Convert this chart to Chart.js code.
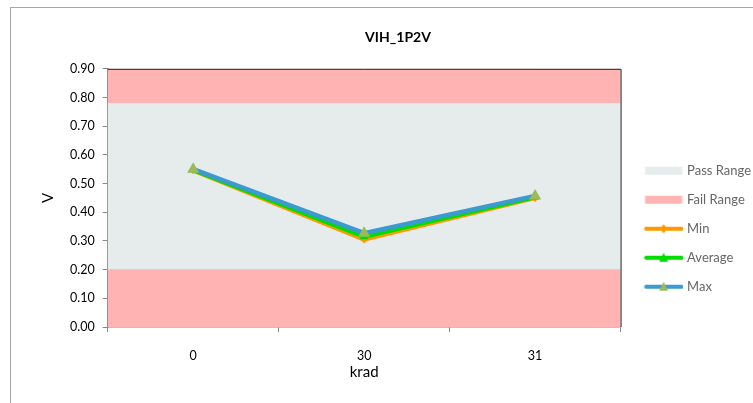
<!DOCTYPE html>
<html>
<head>
<meta charset="utf-8">
<script src="https://cdn.jsdelivr.net/npm/chart.js@4"></script>
<style>
  body { margin: 0; background: #fff; }
  #wrap { position: relative; width: 753px; height: 403px; overflow: hidden; }
  #frame { position: absolute; left: 10px; top: 7px; width: 800px; height: 450px; border: 1px solid #a6a6a6; box-sizing: border-box; }
  #c { position: absolute; left: 0; top: 0; }
</style>
</head>
<body>
<div id="wrap">
  <div id="frame"></div>
  <canvas id="c" width="753" height="403"></canvas>
</div>
<script>
const categories = ['0', '30', '31'];
const minVals = [0.546, 0.305, 0.450];
const avgVals = [0.548, 0.315, 0.453];
const maxVals = [0.550, 0.327, 0.457];
const failLow = 0.20;
const passHigh = 0.78;
const axisMax = 0.90;
const yTicks = [0, 0.1, 0.2, 0.3, 0.4, 0.5, 0.6, 0.7, 0.8, 0.9];

const passColor = '#e6ecec';
const failColor = '#ffb3b3';

function bandRow(v) { return categories.map(() => v); }

// legend swatch, drawn a bit right of centre so it lines up with the text like excel does
function legendIcon(kind, color, marker) {
  const cv = document.createElement('canvas');
  cv.width = 48; cv.height = 12;
  const g = cv.getContext('2d');
  const x0 = 10.5, x1 = 47.5, mid = (x0 + x1) / 2;
  if (kind === 'box') {
    g.fillStyle = color;
    g.fillRect(x0, 2, x1 - x0, 8);
  } else {
    g.strokeStyle = color;
    g.lineWidth = 4;
    g.lineCap = 'round';
    g.beginPath(); g.moveTo(x0 + 1, 6); g.lineTo(x1 - 1, 6); g.stroke();
    g.fillStyle = marker;
    g.beginPath();
    if (kind === 'diamond') {
      g.moveTo(mid, 1.5); g.lineTo(mid + 4, 6); g.lineTo(mid, 10.5); g.lineTo(mid - 4, 6);
    } else {
      g.moveTo(mid, 1); g.lineTo(mid + 4.5, 10); g.lineTo(mid - 4.5, 10);
    }
    g.closePath(); g.fill();
  }
  return cv;
}

const legendItems = [
  { text: 'Pass Range', icon: legendIcon('box', passColor) },
  { text: 'Fail Range', icon: legendIcon('box', failColor) },
  { text: 'Min', icon: legendIcon('diamond', '#ff9900', '#ff9900') },
  { text: 'Average', icon: legendIcon('tri', '#00dd00', '#00dd00') },
  { text: 'Max', icon: legendIcon('tri', '#3b9ad0', '#9bbb59') }
];

const plotBorder = {
  id: 'plotBorder',
  afterDraw(chart) {
    const a = chart.chartArea, ctx = chart.ctx;
    ctx.save();
    ctx.strokeStyle = '#222';
    ctx.lineWidth = 1;
    ctx.beginPath();
    ctx.moveTo(a.left, a.top + 0.5); ctx.lineTo(a.right + 0.5, a.top + 0.5); ctx.lineTo(a.right + 0.5, a.bottom);
    ctx.stroke();
    ctx.restore();
  }
};

const lineBase = { type: 'line', yAxisID: 'y', borderWidth: 4.5, pointRadius: 5, pointBorderWidth: 0 };
const bandBase = { type: 'bar', yAxisID: 'y2', order: 10, barPercentage: 1, categoryPercentage: 1 };
const tickFont = { family: 'Lato', size: 12.5 };

new Chart(document.getElementById('c'), {
  data: {
    labels: categories,
    datasets: [
      Object.assign({}, bandBase, { label: 'Fail Range', data: bandRow(failLow), backgroundColor: failColor }),
      Object.assign({}, bandBase, { label: 'Pass Range', data: bandRow(passHigh - failLow), backgroundColor: passColor }),
      Object.assign({}, bandBase, { label: 'Fail Range', data: bandRow(axisMax - passHigh), backgroundColor: failColor }),
      Object.assign({}, lineBase, { label: 'Min', data: minVals, borderColor: '#ff9900', backgroundColor: '#ff9900', pointStyle: 'rectRot', pointRadius: 4, order: 3 }),
      Object.assign({}, lineBase, { label: 'Average', data: avgVals, borderColor: '#00dd00', backgroundColor: '#00dd00', pointStyle: 'triangle', order: 2 }),
      Object.assign({}, lineBase, { label: 'Max', data: maxVals, borderColor: '#3b9ad0', backgroundColor: '#9bbb59', pointStyle: 'triangle', pointRadius: 7, order: 1 })
    ]
  },
  options: {
    responsive: false,
    animation: false,
    layout: { padding: { left: 35, right: -8, top: 14, bottom: 18 } },
    plugins: {
      title: { display: true, text: 'VIH_1P2V', color: '#000', font: { family: 'Lato', size: 14, weight: 'bold' }, padding: { top: 15, bottom: 23 } },
      tooltip: { enabled: false },
      legend: {
        position: 'right',
        title: { display: true, text: ' ', font: { size: 12 }, padding: { top: 0, bottom: 44 } },
        labels: {
          usePointStyle: true,
          pointStyleWidth: 44,
          padding: 16,
          color: '#000',
          font: { family: 'Lato', size: 13 },
          generateLabels: () => legendItems.map((it, i) => ({ text: it.text, pointStyle: it.icon, datasetIndex: i, hidden: false, lineWidth: 0 }))
        }
      }
    },
    scales: {
      x: {
        stacked: true,
        offset: true,
        grid: { offset: true, drawOnChartArea: false, color: '#888', tickLength: 5 },
        border: { color: '#888', width: 1.5 },
        ticks: { color: '#000', font: tickFont, padding: 16 },
        title: { display: true, text: 'krad', color: '#000', font: { family: 'Lato', size: 15 }, padding: { top: -16 } }
      },
      y: {
        min: 0, max: axisMax,
        afterBuildTicks: s => { s.ticks = yTicks.map(v => ({ value: v })); },
        grid: { drawOnChartArea: false, color: '#888', tickLength: 5 },
        border: { color: '#888', width: 1.5 },
        ticks: { color: '#000', font: tickFont, padding: 8, callback: v => v.toFixed(2) },
        title: { display: true, text: 'V', color: '#000', font: { family: 'Lato', size: 15 }, padding: { bottom: 5 } }
      },
      y2: { display: false, stacked: true, min: 0, max: axisMax }
    }
  },
  plugins: [plotBorder]
});
</script>
</body>
</html>
